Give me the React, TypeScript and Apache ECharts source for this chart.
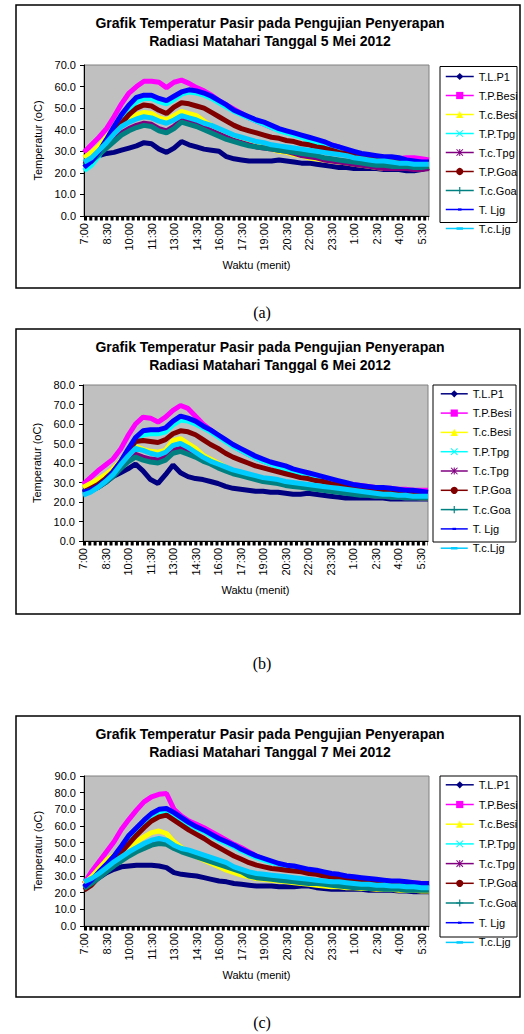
import React, { useEffect, useRef } from 'react';
import * as echarts from 'echarts';

const timeLabels = ['7:00','7:30','8:00','8:30','9:00','9:30','10:00','10:30','11:00','11:30','12:00','12:30','13:00','13:30','14:00','14:30','15:00','15:30','16:00','16:30','17:00','17:30','18:00','18:30','19:00','19:30','20:00','20:30','21:00','21:30','22:00','22:30','23:00','23:30','0:00','0:30','1:00','1:30','2:00','2:30','3:00','3:30','4:00','4:30','5:00','5:30','6:00'];

const seriesNames = ['T.L.P1','T.P.Besi','T.c.Besi','T.P.Tpg','T.c.Tpg','T.P.Goa','T.c.Goa','T. Ljg','T.c.Ljg'];

// 5 Mei 2012
const d5_tlp1 = [24,26,28,29,29.5,30.5,31.5,32.5,34,33.5,31,29.5,31.5,34.5,33,32,31,30.5,30,27.5,26.5,26,25.5,25.5,25.5,25.5,26,25.5,25,24.5,24.5,24,23.5,23,22.5,22.5,22,22,22,22,21.5,21.5,21.5,21,21,21.5,22.5];
const d5_tpBesi = [29.5,33,36.5,40.5,46,52,57,60,62.5,62.5,62,59.5,62,63,61.5,59.5,58,56,53.5,51.5,49.5,47.5,45.5,44,42.5,41,40,39,38,37,36,35,34,33,32,30.5,29.5,28.5,28,27.5,27,27,26.5,27,27,26.5,26];
const d5_tcBesi = [27,29.5,32.5,36.5,40.5,43.5,45.5,47,48,47.5,45.5,44.5,46.5,48.5,47.5,46.5,44,42,40,38,36.5,35,34,33,32,31,30,29.5,28.5,28,27,26.5,26,25.5,25,24.5,24,23.5,23,22.5,22,22,22,22,22,22,23];
const d5_tpTpg = [21,23.5,28,33.5,39.5,45,49.5,53,54.5,54.5,53,52,54,56.5,57.5,57,56,54.5,52.5,50.5,48.5,47,45.5,44,42.5,41,39.5,38.5,37.5,36.5,35,34,33,32,31,30,29,28,27.5,27,26.5,26,25.5,25,24.5,24,24];
const d5_tcTpg = [24,26,29,32.5,35.5,38.5,40.5,42,43,42.5,40.5,39.5,41.5,44.5,43.5,42.5,41,39.5,38,36.5,35,34,33,32,31.5,31,30.5,30,29,28,27.5,27,26,25.5,25,24.5,24,23.5,23,22.5,22,22,22,22,21.5,21.5,22];
const d5_tpGoa = [23.5,25.5,29,33.5,38,43,47,50,51.5,51,49,47.5,50.5,52.5,52,51,50,48,46,44,42,40.5,39.5,38.5,37.5,36.5,36,35,34.5,33.5,33,32,31.5,30.5,29.5,29,28.5,27.5,27,26.5,26,25.5,25.5,25,24.5,24,24];
const d5_tcGoa = [23.5,25.5,28.5,31.5,34.5,37.5,39.5,41,42,41.5,39.5,38.5,40.5,43.5,42.5,41.5,40,38.5,37,35.5,34.5,33.5,32.5,32,31.5,31,30.5,30,29.5,29,28.5,28,27,26.5,26,25.5,25,24.5,24,23.5,23.5,23,23,23,22.5,22.5,23];
const d5_tLjg = [22.5,25.5,30,35.5,41.5,47,51.5,55,56,56,54.5,53.5,55.5,57.5,58.5,58,57,55.5,53.5,51.5,49,47.5,46,44.5,43.5,42,40.5,39.5,38.5,37.5,36.5,35.5,34.5,33,32,31,30,29,28.5,28,27.5,27.5,27,26,25.5,25,25];
const d5_tcLjg = [25,27,30.5,34,38,41.5,43.5,45,46,45.5,44,43,44.5,46.5,45.5,44.5,43,42,40.5,39,37.5,36.5,35.5,34.5,34,33,32.5,32,31.5,31,30.5,30,29.5,29,28.5,28,27,26.5,26,25.5,25.5,25,24.5,24.5,24,24,24];

// 6 Mei 2012
const d6_tlp1 = [26,25.5,27.5,30,33,35,37,39.5,36,31.5,29.5,34,39,35,33,32,31.5,30.5,29.5,28,27,26.5,26,25.5,25.5,25,25,24.5,24,24,24.5,24,23.5,23,22.5,22,22,22,22,22,22,21.5,21.5,21.5,21.5,21.5,21.5];
const d6_tpBesi = [29,32.5,36,39,42,47,54,60,63.5,63,61,63.5,67,69.5,68,64,60,57,54,51.5,49,46.5,44.5,42.5,41,39.5,38,37,35.5,34.5,33.5,32.5,31.5,30.5,30,29.5,29,28.5,28,27.5,27,27,26.5,26.5,26,26,26];
const d6_tcBesi = [27.5,29.5,31.5,34,37,41,45,48.5,47,46,45.5,46.5,51.5,52.5,50,47.5,44,42,40,38,36,34.5,33,32,31,30.5,30,29.5,29,28.5,28,27.5,27,26.5,26,25.5,25,24.5,24,23.5,23.5,23,23,22.5,22.5,22,22];
const d6_tpTpg = [24.5,25.5,27.5,30.5,34.5,39.5,45,51,54.5,55,55,56,59.5,62,61.5,60,58,56,53.5,51,48.5,46.5,44.5,42.5,41,39.5,38,37,36,35,34,33,32,31,30,29,28.5,28,27.5,27,26.5,26,25.5,25,25,24.5,24.5];
const d6_tcTpg = [25,26,28,30.5,33.5,37.5,41.5,44.5,43,42,41.5,43,46.5,47.5,46,44.5,42.5,40.5,38.5,37,35.5,34,33,32,31,30.5,30,29.5,29,28.5,28,27,26.5,26,25.5,25,24.5,24,23.5,23,23,22.5,22.5,22,22,22,22];
const d6_tpGoa = [25,27,29,32,35.5,40.5,46.5,51,51.5,51,50.5,52,55,56.5,56,54.5,52,49.5,47.5,45,43,41.5,40,38.5,37.5,36.5,35.5,34.5,33.5,32.5,32,31,30.5,29.5,29,28.5,28,27.5,27,26.5,26,25.5,25.5,25,24.5,24.5,24.5];
const d6_tcGoa = [25,26,27.5,30,33,37,40.5,43,41.5,40.5,40,41.5,45,46,44.5,43,41,39.5,37.5,36,34.5,33.5,32.5,31.5,30.5,30,29.5,28.5,28,27.5,27,26.5,26,25.5,25,24.5,24,23.5,23.5,23,23,22.5,22.5,22,22,22,22];
const d6_tLjg = [25,26,28,31,35.5,40.5,47,53,56.5,57,57,58,61.5,64,63,61.5,59,57,54.5,52,49.5,47.5,45.5,43.5,42,40.5,39.5,38.5,37,36,35,34,33,32,31,30,29,28.5,28,27.5,27.5,27,26.5,26,26,25.5,25];
const d6_tcLjg = [23.5,25,27.5,30.5,34,39,43.5,47.5,46.5,45,44,45.5,49,50,48,45.5,43,41,39.5,38,36.5,35.5,34.5,33.5,32.5,32,31.5,30.5,30,29.5,29,28.5,28,27.5,27,26.5,26,25.5,25,24.5,24,24,23.5,23.5,23,23,23];

// 7 Mei 2012
const d7_tlp1 = [23.5,26,29,32,34,35.5,36,36.5,36.5,36.5,36,35,32,31,30.5,30,29,28,27,26.5,25.5,25,24.5,24,24,24,23.5,23.5,23.5,24,24,23,22.5,22,22,22,22,22,21.5,21.5,21.5,21.5,21,21,20.5,20.5,20.5];
const d7_tpBesi = [25.5,32.5,38.5,44.5,50.5,58,64,69.5,74.5,77.5,79,79.5,70,66,63,61,59,56.5,54,51.5,49,47,44.5,42,40,38.5,37,36,35,34,33,32,31,30,29.5,29,28.5,28,27.5,27,27,26.5,26.5,26,26,25.5,25];
const d7_tcBesi = [25.5,29.5,34.5,39.5,42.5,45.5,48,50.5,53.5,56,57,55.5,50.5,47,44,41.5,39.5,37.5,35.5,33.5,32,30.5,29.5,28.5,28,27.5,27,26.5,26,25.5,25,24.5,24,23.5,23.5,23,23,22.5,22.5,22,22,22,21.5,21.5,21.5,21,21];
const d7_tpTpg = [23,26.5,31.5,36,41,47,53,58,62,66,68.5,69,67,64,61,58.5,56.5,54,51.5,49.5,47.5,45,43,41,39.5,38,37,36,35,34,33.5,32.5,31.5,31,30,29.5,29,28.5,28,27.5,27,26.5,26,26,25.5,25,25];
const d7_tcTpg = [23,26,29.5,33,36.5,40,43,45.5,47.5,49.5,50.5,50,47.5,45.5,44,42.5,41,39,37.5,36,34.5,33,32,31,30,29.5,29,28.5,28,27.5,27,26.5,26,25.5,25,24.5,24,24,23.5,23,23,22.5,22.5,22,22,22,22];
const d7_tpGoa = [21.5,24.5,29.5,34.5,39,44.5,49.5,54.5,59,63,65.5,66.5,63.5,60.5,57.5,55,52.5,49.5,47,44.5,42,40,38,36.5,35.5,34.5,34,33.5,33,32.5,31.5,31,30,29.5,28.5,28,27.5,27,26.5,26,26,25.5,25,24.5,24,24,23.5];
const d7_tcGoa = [22.5,25.5,29,32.5,36,39,42,44.5,46.5,48.5,49.5,49,46.5,44.5,43,41.5,40,38.5,37,35.5,34,32.5,30,29,28.5,28,27.5,27,26.5,26,25.5,25.5,25,24.5,24,23.5,23,23,22.5,22.5,22,22,22,21.5,21.5,21.5,21.5];
const d7_tLjg = [23.5,27.5,32.5,37,42,48,54.5,59,63.5,67.5,70,70.5,68,65,62,59.5,57.5,55,52.5,50.5,48.5,46,44,42,40.5,39,37.5,36.5,36,35,34,33.5,32.5,31.5,31,30,29.5,29,28.5,28,27.5,27,27,26.5,26,25.5,25.5];
const d7_tcLjg = [26.5,28.5,31.5,35,38.5,41.5,44.5,47,49.5,51.5,52.5,51.5,48.5,46.5,45.5,44,42.5,41,39.5,38,35.5,34,32.5,31.5,31,30.5,30,29.5,29,28.5,28,27.5,27,26.5,26.5,26,25.5,25,25,24.5,24.5,24,24,23.5,23.5,23,23];

const day5 = [d5_tlp1, d5_tpBesi, d5_tcBesi, d5_tpTpg, d5_tcTpg, d5_tpGoa, d5_tcGoa, d5_tLjg, d5_tcLjg];
const day6 = [d6_tlp1, d6_tpBesi, d6_tcBesi, d6_tpTpg, d6_tcTpg, d6_tpGoa, d6_tcGoa, d6_tLjg, d6_tcLjg];
const day7 = [d7_tlp1, d7_tpBesi, d7_tcBesi, d7_tpTpg, d7_tcTpg, d7_tpGoa, d7_tcGoa, d7_tLjg, d7_tcLjg];

const titleLine1 = 'Grafik Temperatur Pasir pada Pengujian Penyerapan';
const titleLine2 = ['Radiasi Matahari Tanggal 5 Mei 2012', 'Radiasi Matahari Tanggal 6 Mei 2012', 'Radiasi Matahari Tanggal 7 Mei 2012'];
const yMaxes = [70, 80, 90];
const captions = ['(a)', '(b)', '(c)'];
const yAxisTitle = 'Temperatur (oC)';
const xAxisTitle = 'Waktu (menit)';

// styles
const COLORS = ['#000080', '#FF00FF', '#FFFF00', '#00FFFF', '#800080', '#800000', '#008080', '#0000FF', '#00CCFF'];
const X_PATH = 'path://M1,0L5,4L9,0L10,1L6,5L10,9L9,10L5,6L1,10L0,9L4,5L0,1Z';
const STAR_PATH = 'path://M1,0L5,4L9,0L10,1L6,5L10,9L9,10L5,6L1,10L0,9L4,5L0,1Z M4.3,0L5.7,0L5.7,10L4.3,10Z';
const PLUS_PATH = 'path://M4.2,0H5.8V4.2H10V5.8H5.8V10H4.2V5.8H0V4.2H4.2Z';
const SHORT_DASH = 'path://M0,0M10,10M2.5,3.5H7.5V6.5H2.5Z';
const LONG_DASH = 'path://M0,0M10,10M0.5,3.3H9.5V6.8H0.5Z';
const SYMBOLS = ['diamond', 'rect', 'triangle', X_PATH, STAR_PATH, 'circle', PLUS_PATH, SHORT_DASH, LONG_DASH];
const FONT = "'Liberation Sans', Arial, sans-serif";

const layouts = [
  { frame: [16, 5, 504, 283], grid: { left: 84, top: 65, width: 345, height: 151 }, box: [440, 66.5, 77, 156], legend: { left: 445, top: 71, gap: 7, w: 28 }, titleY: 23, capY: 312 },
  { frame: [16, 329, 504, 285], grid: { left: 83, top: 385, width: 345, height: 156 }, box: [433, 385, 83, 157], legend: { left: 440, top: 388.3, gap: 7.3, w: 27 }, titleY: 347, capY: 663 },
  { frame: [16, 716, 504, 281], grid: { left: 84, top: 776, width: 345, height: 150 }, box: [440, 776, 77, 161], legend: { left: 445, top: 779.3, gap: 7.7, w: 28 }, titleY: 734, capY: 1022 },
];

function buildOption() {
  const days = [day5, day6, day7];
  const grid: any[] = [];
  const xAxis: any[] = [];
  const yAxis: any[] = [];
  const series: any[] = [];
  const legend: any[] = [];
  const graphic: any[] = [];

  layouts.forEach((L, k) => {
    const g = L.grid;
    grid.push({ ...g, show: true, backgroundColor: '#C0C0C0', borderColor: '#808080', borderWidth: 1, containLabel: false });
    xAxis.push({
      type: 'category', gridIndex: k, data: timeLabels, boundaryGap: false, position: 'bottom',
      axisLine: { show: true, lineStyle: { color: '#000', width: 1 } },
      axisTick: { show: false },
      axisLabel: { interval: 2, rotate: 90, fontSize: 11, color: '#000', margin: 7, fontFamily: FONT },
      splitLine: { show: false },
      name: xAxisTitle, nameLocation: 'middle', nameGap: 43,
      nameTextStyle: { fontSize: 11, color: '#000', fontFamily: FONT },
    });
    yAxis.push({
      type: 'value', gridIndex: k, min: 0, max: yMaxes[k], interval: 10,
      axisLine: { show: true, lineStyle: { color: '#000', width: 1 } },
      axisTick: { show: true, length: 4, lineStyle: { color: '#000' } },
      splitLine: { show: false },
      axisLabel: { formatter: (v: number) => v.toFixed(1), fontSize: 11, color: '#000', margin: 8, fontFamily: FONT },
      name: yAxisTitle, nameLocation: 'middle', nameGap: 40, nameRotate: 90,
      nameTextStyle: { fontSize: 11, color: '#000', fontFamily: FONT },
    });
    days[k].forEach((arr, s) => {
      series.push({
        type: 'line', name: seriesNames[s], xAxisIndex: k, yAxisIndex: k, data: arr,
        color: COLORS[s], symbol: SYMBOLS[s], symbolKeepAspect: true, showSymbol: false,
        lineStyle: { width: 5, color: COLORS[s] }, itemStyle: { color: COLORS[s] },
        emphasis: { disabled: true }, silent: true,
      });
    });
    legend.push({
      orient: 'vertical', left: L.legend.left, top: L.legend.top, padding: 0,
      itemWidth: L.legend.w, itemHeight: 9, itemGap: L.legend.gap + 1,
      textStyle: { fontSize: 11, color: '#000', fontFamily: FONT },
      lineStyle: { width: 1.5 }, selectedMode: false, data: seriesNames,
    });
    // dense minor-tick band under the time axis (decoration)
    graphic.push({
      type: 'line', silent: true, z: 10,
      shape: { x1: g.left, y1: g.top + g.height + 2.5, x2: g.left + g.width, y2: g.top + g.height + 2.5 },
      style: { stroke: '#000', lineWidth: 4, lineDash: [3, 2.3] },
    });
    graphic.push({ type: 'rect', shape: { x: L.frame[0], y: L.frame[1], width: L.frame[2], height: L.frame[3] }, style: { fill: 'none', stroke: '#000', lineWidth: 1.5 }, z: 0 });
    graphic.push({ type: 'rect', shape: { x: L.box[0], y: L.box[1], width: L.box[2], height: L.box[3] }, style: { fill: '#fff', stroke: '#000', lineWidth: 1 }, z: 0 });
    graphic.push({ type: 'text', x: 270, y: L.titleY, style: { text: titleLine1, font: `bold 14px ${FONT}`, fill: '#000', align: 'center', verticalAlign: 'middle' } });
    graphic.push({ type: 'text', x: 270, y: L.titleY + 18, style: { text: titleLine2[k], font: `bold 14px ${FONT}`, fill: '#000', align: 'center', verticalAlign: 'middle' } });
    graphic.push({ type: 'text', x: 262, y: L.capY, style: { text: captions[k], font: "16px 'Liberation Serif', 'Times New Roman', serif", fill: '#000', align: 'center', verticalAlign: 'middle' } });
  });

  return {
    animation: false,
    backgroundColor: '#fff',
    grid, xAxis, yAxis, series, legend, graphic,
  };
}

export default function App() {
  const ref = useRef<HTMLDivElement>(null);
  useEffect(() => {
    document.body.style.margin = '0';
    const chart = echarts.init(ref.current as HTMLDivElement, null, { renderer: 'svg' });
    chart.setOption(buildOption() as any);
    return () => chart.dispose();
  }, []);
  return <div ref={ref} style={{ width: 524, height: 1034 }} />;
}
